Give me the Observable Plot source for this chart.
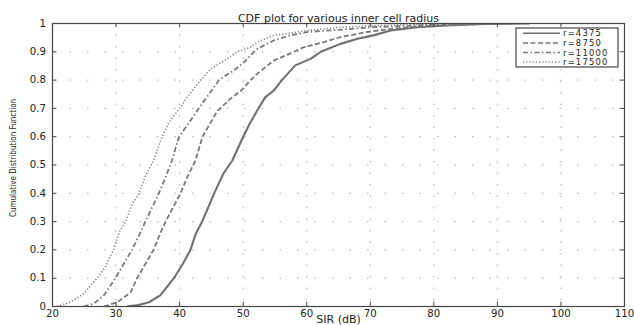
<!DOCTYPE html>
<html>
<head>
<meta charset="utf-8">
<script src="https://cdn.jsdelivr.net/npm/d3@7"></script>
<script src="https://cdn.jsdelivr.net/npm/@observablehq/plot@0.6"></script>
<style>
  html, body { margin: 0; padding: 0; background: #fff; }
  #wrap { position: relative; width: 634px; height: 325px; overflow: hidden; }
  #legend { position: absolute; left: 0; top: 0; }
</style>
</head>
<body>
<div id="wrap"></div>
<script>
// ---- Data ----
const titleText = "CDF plot for various inner cell radius";
const xLabel = "SIR (dB)";
const yLabel = "Cumulative Distribution Function";

const xTicks = [20, 30, 40, 50, 60, 70, 80, 90, 100, 110];
const yTicks = [0, 0.1, 0.2, 0.3, 0.4, 0.5, 0.6, 0.7, 0.8, 0.9, 1];
const yTickLabels = ["0", "0.1", "0.2", "0.3", "0.4", "0.5", "0.6", "0.7", "0.8", "0.9", "1"];

const seriesNames = ["r=4375", "r=8750", "r=11000", "r=17500"];

const sir4375 = [31.7, 33.5, 35.2, 37, 39.1, 40.5, 41.7, 42.6, 43.55, 45.4, 46.9, 48.3, 50.0, 51.0, 52.4, 53.5, 54.8, 56.1, 58.2, 60.6, 62.2, 65.3, 68, 70.5, 73.2, 77.4, 82, 88, 95];
const cdf4375 = [0, 0.005, 0.015, 0.04, 0.1, 0.15, 0.2, 0.26, 0.3, 0.398, 0.47, 0.516, 0.6, 0.645, 0.7, 0.74, 0.763, 0.8, 0.852, 0.875, 0.9, 0.928, 0.946, 0.958, 0.975, 0.987, 0.993, 0.998, 1];

const sir8750 = [28.1, 30.2, 32.3, 33.3, 34.6, 35.9, 36.8, 37.8, 40.1, 41.2, 42.5, 43.6, 45.9, 48, 49.8, 51.15, 52.2, 54.8, 58.0, 59.5, 62.7, 65.3, 69.5, 73.2, 78, 85, 92];
const cdf8750 = [0, 0.015, 0.05, 0.1, 0.15, 0.2, 0.25, 0.3, 0.398, 0.457, 0.516, 0.6, 0.69, 0.734, 0.765, 0.8, 0.822, 0.869, 0.9, 0.916, 0.934, 0.952, 0.97, 0.981, 0.99, 0.997, 1];

const sir11000 = [24.9, 26.5, 28.1, 29.9, 31.2, 32.5, 33.6, 34.6, 36.7, 37.8, 38.8, 39.9, 41.5, 43, 44.3, 46.2, 48.5, 50.0, 51.7, 52.2, 54.8, 57.4, 60.1, 65.3, 70.5, 80, 88];
const cdf11000 = [0, 0.01, 0.04, 0.1, 0.15, 0.2, 0.25, 0.3, 0.398, 0.457, 0.516, 0.6, 0.65, 0.7, 0.74, 0.8, 0.834, 0.86, 0.9, 0.91, 0.94, 0.958, 0.97, 0.978, 0.987, 0.996, 1];

const sir17500 = [20.7, 22.8, 24.9, 27.0, 28.3, 29.6, 30.5, 31.5, 32.5, 33.6, 34.6, 35.9, 37.25, 38.3, 40.0, 41.2, 43.3, 44.9, 47.5, 49.05, 51.15, 52.2, 54.8, 60.1, 65.3, 75, 85];
const cdf17500 = [0, 0.015, 0.045, 0.1, 0.139, 0.2, 0.263, 0.3, 0.36, 0.398, 0.46, 0.516, 0.6, 0.65, 0.7, 0.74, 0.8, 0.84, 0.875, 0.9, 0.916, 0.934, 0.958, 0.975, 0.987, 0.996, 1];

const sirSeries = [sir4375, sir8750, sir11000, sir17500];
const cdfSeries = [cdf4375, cdf8750, cdf11000, cdf17500];

// ---- Styles ----
const lineStyles = [
  {stroke: "#707070", strokeWidth: 2.1, dash: null},
  {stroke: "#787878", strokeWidth: 1.8, dash: "5,2.5"},
  {stroke: "#787878", strokeWidth: 1.8, dash: "5,2.5,1.5,2.5"},
  {stroke: "#8a8a8a", strokeWidth: 1.6, dash: "1.3,1.9"}
];
const font = "DejaVu Sans";

const series = seriesNames.map((name, i) =>
  sirSeries[i].map((x, j) => ({x, p: cdfSeries[i][j], name})));

const lineMarks = series.map((data, i) =>
  Plot.line(data, {
    x: "x", y: "p",
    stroke: lineStyles[i].stroke,
    strokeWidth: lineStyles[i].strokeWidth,
    strokeDasharray: lineStyles[i].dash,
    strokeLinecap: "butt",
    strokeLinejoin: "miter",
    clip: true
  }));

const chart = Plot.plot({
  width: 634,
  height: 325,
  marginLeft: 52,
  marginRight: 10,
  marginTop: 23,
  marginBottom: 19,
  style: {fontFamily: font, fontSize: "10px", color: "#222", background: "#fff", overflow: "visible"},
  x: {domain: [20, 110]},
  y: {domain: [0, 1]},
  marks: [
    Plot.ruleX(xTicks.slice(1, -1), {stroke: "#b0b0b0", strokeWidth: 1, strokeDasharray: "1.5,10"}),
    Plot.ruleY(yTicks.slice(1, -1), {stroke: "#b0b0b0", strokeWidth: 1, strokeDasharray: "1.5,16"}),
    ...lineMarks,
    Plot.frame({stroke: "#444", strokeWidth: 1.2}),
    Plot.ruleX(xTicks, {y1: 0, y2: 0.015, stroke: "#444"}),
    Plot.ruleX(xTicks, {y1: 0.985, y2: 1, stroke: "#444"}),
    Plot.ruleY(yTicks, {x1: 20, x2: 20.7, stroke: "#444"}),
    Plot.ruleY(yTicks, {x1: 109.3, x2: 110, stroke: "#444"}),
    Plot.axisX(xTicks, {tickSize: 0, tickPadding: 3.5, label: null, fontSize: 10.2, tickFormat: d => String(d)}),
    Plot.axisY(yTicks, {tickSize: 0, tickPadding: 6.5, label: null, fontSize: 10.2,
      tickFormat: d => yTickLabels[yTicks.indexOf(d)]}),
    Plot.text([titleText], {frameAnchor: "top", dy: -9, fontSize: 11, fill: "#222"}),
    Plot.text([xLabel], {frameAnchor: "bottom", dy: 16, fontSize: 11, fill: "#222"}),
    Plot.text([yLabel], {frameAnchor: "left", textAnchor: "middle", dx: -39, dy: -7, rotate: -90, fontSize: 8,
      fontFamily: "DejaVu Sans Condensed", fill: "#222"})
  ]
});

const wrap = document.getElementById("wrap");
wrap.appendChild(chart);

// ---- Legend (MATLAB-style box, upper right, built from seriesNames) ----
const lg = d3.select(wrap).append("svg")
  .attr("id", "legend")
  .attr("width", 634).attr("height", 325)
  .style("pointer-events", "none");
const box = {x: 516, y: 28, w: 102, h: 39};
lg.append("rect")
  .attr("x", box.x).attr("y", box.y).attr("width", box.w).attr("height", box.h)
  .attr("fill", "#fff").attr("stroke", "#444").attr("stroke-width", 1.2);
const rowH = 9.6;
seriesNames.forEach((name, i) => {
  const cy = box.y + 5.3 + i * rowH;
  lg.append("line")
    .attr("x1", box.x + 7).attr("x2", box.x + 44)
    .attr("y1", cy).attr("y2", cy)
    .attr("stroke", lineStyles[i].stroke)
    .attr("stroke-width", Math.min(lineStyles[i].strokeWidth, 1.5))
    .attr("stroke-dasharray", lineStyles[i].dash);
  lg.append("text")
    .attr("x", box.x + 47).attr("y", cy)
    .attr("dy", "0.36em")
    .attr("font-family", font).attr("font-size", 8.4)
    .attr("letter-spacing", "1.2px")
    .attr("fill", "#222")
    .text(name);
});
</script>
</body>
</html>
